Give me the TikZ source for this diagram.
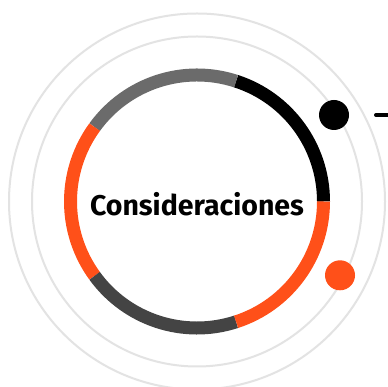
\documentclass[tikz,border=0pt]{standalone}
\usepackage{fontspec}
\setmainfont{Fira Sans}
\definecolor{accent}{HTML}{FF5019}
\definecolor{midgray}{HTML}{6B6B6B}
\definecolor{darkgray}{HTML}{444444}
\definecolor{lightring}{HTML}{E3E3E3}
\tikzset{
  guide/.style={draw=lightring, line width=2pt},
  seg/.style={line width=13pt, line cap=butt},
  dot/.style={circle, minimum size=30pt, inner sep=0pt},
}
\begin{document}
\begin{tikzpicture}[x=1pt,y=1pt]
\useasboundingbox (0,0) rectangle (387,387);
\fill[white] (0,0) rectangle (387,387);
\coordinate (c) at (197,185.5);
\draw[guide] (c) circle (188);
\draw[guide] (c) circle (165);
\draw[seg, black]    ([shift={(0:126.5)}]c)   arc (0:72:126.5);
\draw[seg, midgray]  ([shift={(72:126.5)}]c)  arc (72:144:126.5);
\draw[seg, accent]   ([shift={(144:126.5)}]c) arc (144:216:126.5);
\draw[seg, darkgray] ([shift={(216:126.5)}]c) arc (216:288:126.5);
\draw[seg, accent]   ([shift={(288:126.5)}]c) arc (288:360:126.5);
\node[dot, fill=black] (d1) at (334,272) {};
\node[dot, fill=accent] (d2) at (340,111.7) {};
\coordinate (dashA) at (376,272);
\coordinate (dashB) at (395,272);
\draw[line width=4pt, line cap=round] (dashA) -- (dashB);
\node[font=\bfseries\fontsize{28.5}{30}\selectfont, inner sep=0pt] (title) at (197,182.5) {Consideraciones};
\end{tikzpicture}
\end{document}
